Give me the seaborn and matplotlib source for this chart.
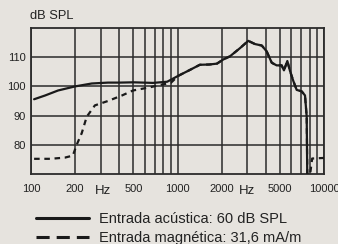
import matplotlib
matplotlib.use("Agg")
import matplotlib.pyplot as plt
import seaborn as sns
from matplotlib.lines import Line2D
from matplotlib.ticker import FixedLocator, NullFormatter

# frequency response
acoustic_freq = [105, 125, 153, 200, 260, 335, 405, 500, 680, 850, 1010, 1200,
                 1420, 1650, 1860, 2050, 2280, 2670, 3040, 3380, 3760, 4060,
                 4400, 4750, 5140, 5330, 5620, 5860, 6170, 6510, 7040, 7420,
                 7620, 7690]
acoustic_db = [95.6, 96.9, 98.6, 100.0, 101.0, 101.3, 101.3, 101.4, 101.2, 101.6,
               103.6, 105.5, 107.4, 107.5, 107.8, 109.2, 110.3, 113.1, 115.6,
               114.5, 114.0, 112.0, 108.1, 107.2, 107.2, 105.5, 108.7, 105.3,
               101.9, 98.8, 98.3, 96.9, 89.6, 68.0]

magnetic_freq = [105, 135, 170, 193, 205, 222, 240, 273, 335, 418, 497, 649,
                 760, 900, 1010, 1200, 1420, 1650, 1860, 2050, 2280, 2670, 3040,
                 3380, 3760, 4060, 4400, 4750, 5140, 5330, 5620, 5860, 6170,
                 6510, 7040, 7420, 7620, 7700, 7950, 8300, 10000]
magnetic_db = [75.2, 75.2, 75.6, 76.3, 80.0, 84.0, 89.6, 93.5, 95.0, 96.9, 98.6,
               99.7, 100.5, 101.2, 103.6, 105.5, 107.4, 107.5, 107.8, 109.2,
               110.3, 113.1, 115.6, 114.5, 114.0, 112.0, 108.1, 107.2, 107.2,
               105.5, 108.7, 105.3, 101.9, 98.8, 98.3, 96.9, 89.6, 68.0, 68.0,
               75.3, 75.5]

x_ticks = [100, 200, 500, 1000, 2000, 5000, 10000]
x_tick_labels = ["100", "200", "500", "1000", "2000", "5000", "10000"]
x_minor = [300, 400, 600, 700, 800, 900, 3000, 4000, 6000, 7000, 8000, 9000]
y_ticks = [80, 90, 100, 110]
legend_labels = ["Entrada acústica: 60 dB SPL", "Entrada magnética: 31,6 mA/m"]

bg = "#e6e3de"
ink = "#1a1a1a"
grid_col = "#2b2b2b"

sns.set_style("white")
plt.rcParams["font.family"] = ["Liberation Sans", "DejaVu Sans"]

fig = plt.figure(figsize=(3.38, 2.44), dpi=100, facecolor=bg)
ax = fig.add_axes([31 / 338, 1 - 174 / 244, 293 / 338, 146 / 244])
ax.set_facecolor(bg)

ax.set_xscale("log")
sns.lineplot(x=acoustic_freq, y=acoustic_db, ax=ax, color=ink, lw=1.6,
             estimator=None, sort=False, zorder=3)
sns.lineplot(x=magnetic_freq, y=magnetic_db, ax=ax, color=ink, lw=1.6,
             estimator=None, sort=False, linestyle=(0, (2.5, 2.1)), zorder=3)

ax.set_xlim(100, 10000)
ax.set_ylim(70, 120)

ax.xaxis.set_major_locator(FixedLocator(x_ticks))
ax.xaxis.set_minor_locator(FixedLocator(x_minor))
ax.xaxis.set_minor_formatter(NullFormatter())
ax.set_xticklabels(x_tick_labels)
ax.set_yticks(y_ticks)
ax.tick_params(which="both", length=0, labelsize=8, colors="#222222")
ax.tick_params(axis="x", pad=7)
ax.tick_params(axis="y", pad=4)
ax.grid(True, which="both", color=grid_col, lw=1.1)
for sp in ax.spines.values():
    sp.set_color(grid_col)
    sp.set_linewidth(1.3)

# "Hz" markers sit between the tick labels
for fx in (310, 3000):
    ax.text(fx, -0.14, "Hz", transform=ax.get_xaxis_transform(),
            ha="center", va="baseline", fontsize=9.5, color="#222222")

fig.text(30 / 338, 1 - 19 / 244, "dB SPL", fontsize=9.3, color="#222222",
         va="baseline", ha="left")

handles = [Line2D([], [], color=ink, lw=2.2),
           Line2D([], [], color=ink, lw=2.2, linestyle=(0, (4.3, 2.3)))]
ax.legend(handles, legend_labels, loc="upper left",
          bbox_to_anchor=(36 / 338, 1 - 212 / 244), bbox_transform=fig.transFigure,
          frameon=False, borderpad=0, borderaxespad=0, handlelength=3.6,
          handletextpad=0.7, labelspacing=0.36,
          prop={"family": ["Liberation Sans"], "size": 10.5},
          labelcolor="#222222")

fig.savefig("out.png", dpi=100, facecolor=bg)
